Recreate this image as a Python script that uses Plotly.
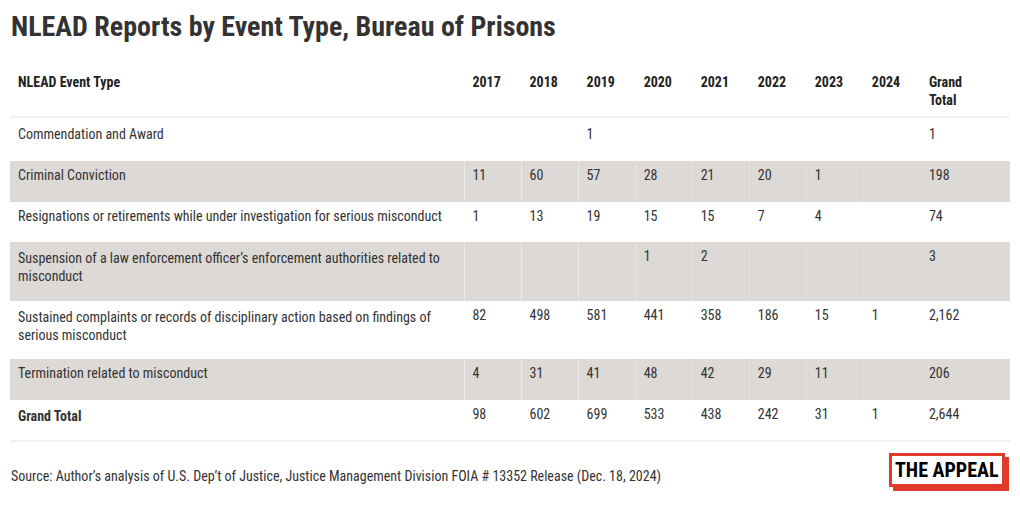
import plotly.graph_objects as go

# ---------------- data ----------------
title = "NLEAD Reports by Event Type, Bureau of Prisons"
source = ("Source: Author’s analysis of U.S. Dep’t of Justice, Justice Management Division "
          "FOIA # 13352 Release (Dec. 18, 2024)")
logo = "THE APPEAL"

years = ["2017", "2018", "2019", "2020", "2021", "2022", "2023", "2024"]

event_types = [
    "Commendation and Award",
    "Criminal Conviction",
    "Resignations or retirements while under investigation for serious misconduct",
    "Suspension of a law enforcement officer’s enforcement authorities related to<br>misconduct",
    "Sustained complaints or records of disciplinary action based on findings of<br>serious misconduct",
    "Termination related to misconduct",
    "<b>Grand Total</b>",
]

# values per event type, by year (None = blank cell)
commendation = [None, None, 1, None, None, None, None, None]
conviction = [11, 60, 57, 28, 21, 20, 1, None]
resignations = [1, 13, 19, 15, 15, 7, 4, None]
suspension = [None, None, None, 1, 2, None, None, None]
sustained = [82, 498, 581, 441, 358, 186, 15, 1]
termination = [4, 31, 41, 48, 42, 29, 11, None]
grand_by_year = [98, 602, 699, 533, 438, 242, 31, 1]

row_totals = [1, 198, 74, 3, 2162, 206, 2644]

rows = [commendation, conviction, resignations, suspension, sustained, termination, grand_by_year]


def fmt(v):
    return "" if v is None else f"{v:,}"


columns = [event_types]
for j in range(len(years)):
    columns.append([fmt(r[j]) for r in rows])
columns.append([fmt(v) for v in row_totals])

GRAY = "#dcd9d6"
row_fill = ["white" if i % 2 == 0 else GRAY for i in range(len(rows))]

header_vals = ["<b>NLEAD Event Type</b>"] + [f"<b>{y}</b>" for y in years] + ["<b>Grand<br>Total</b>"]

FONT = "Roboto Condensed, Roboto, sans-serif"
W, H = 1004, 493  # page has an 8px body margin


def px(x):
    return (x - 8) / W


def py(y):
    return 1 - (y - 8) / H


COLW = [454] + [57] * 8 + [89]
SHIFT = 3
SPACER = 16

# row groups: (first row, last row + 1, row height, page y of first row top)
groups = [(0, 3, 41, 117 + SHIFT), (3, 5, 59, 239 + SHIFT), (5, 7, 41, 356 + SHIFT)]

fig = go.Figure()
for gi, (a, b, h, top) in enumerate(groups):
    if gi == 0:
        header = dict(
            values=header_vals, align="left", height=top - 66,
            fill=dict(color="white"), line=dict(color="white", width=0),
            font=dict(family=FONT, size=14, color="#222222"),
        )
        dom_top = 66
    else:
        header = dict(
            values=[""] * len(columns), align="left", height=SPACER,
            fill=dict(color="rgba(0,0,0,0)"), line=dict(color="rgba(0,0,0,0)", width=0),
            font=dict(family=FONT, size=14, color="#222222"),
        )
        dom_top = top - SPACER
    seg_fill = [row_fill[a:b] for _ in columns]
    fig.add_trace(go.Table(
        domain=dict(x=[px(10), px(1010)], y=[0, py(dom_top)]),
        columnwidth=COLW,
        header=header,
        cells=dict(
            values=[col[a:b] for col in columns],
            align="left",
            height=h,
            fill=dict(color=seg_fill),
            line=dict(color=seg_fill, width=0),
            font=dict(family=FONT, size=14, color="#333333"),
        ),
    ))

fig.add_annotation(
    text=f"<b>{title}</b>", xref="paper", yref="paper", x=px(9), y=py(27),
    xanchor="left", yanchor="middle", showarrow=False,
    font=dict(family=FONT, size=28, color="#333333"),
)
fig.add_annotation(
    text=source, xref="paper", yref="paper", x=px(9), y=py(476),
    xanchor="left", yanchor="middle", showarrow=False,
    font=dict(family=FONT, size=14, color="#333333"),
)
# logo: offset red backing + framed label
RED = "#e03a2a"
fig.add_annotation(
    text=" ", xref="paper", yref="paper", x=px(951), y=py(474),
    xanchor="center", yanchor="middle", showarrow=False,
    width=106, height=24, borderpad=2,
    bordercolor=RED, borderwidth=3, bgcolor=RED,
    font=dict(family=FONT, size=20, color="black"),
)
fig.add_annotation(
    text=f"<b>{logo}</b>", xref="paper", yref="paper", x=px(947), y=py(470),
    xanchor="center", yanchor="middle", showarrow=False,
    width=106, height=24, borderpad=2,
    bordercolor=RED, borderwidth=3, bgcolor="white",
    font=dict(family=FONT, size=20, color="black"),
)

for yy in (117, 438 + SHIFT):
    fig.add_shape(type="line", xref="paper", yref="paper",
                  x0=px(10), x1=px(1010), y0=py(yy), y1=py(yy),
                  line=dict(color="#e4e4e4", width=1))

fig.update_layout(
    width=W, height=H,
    margin=dict(l=0, r=0, t=0, b=0),
    paper_bgcolor="white",
    plot_bgcolor="white",
)

fig.write_html("out.html")
